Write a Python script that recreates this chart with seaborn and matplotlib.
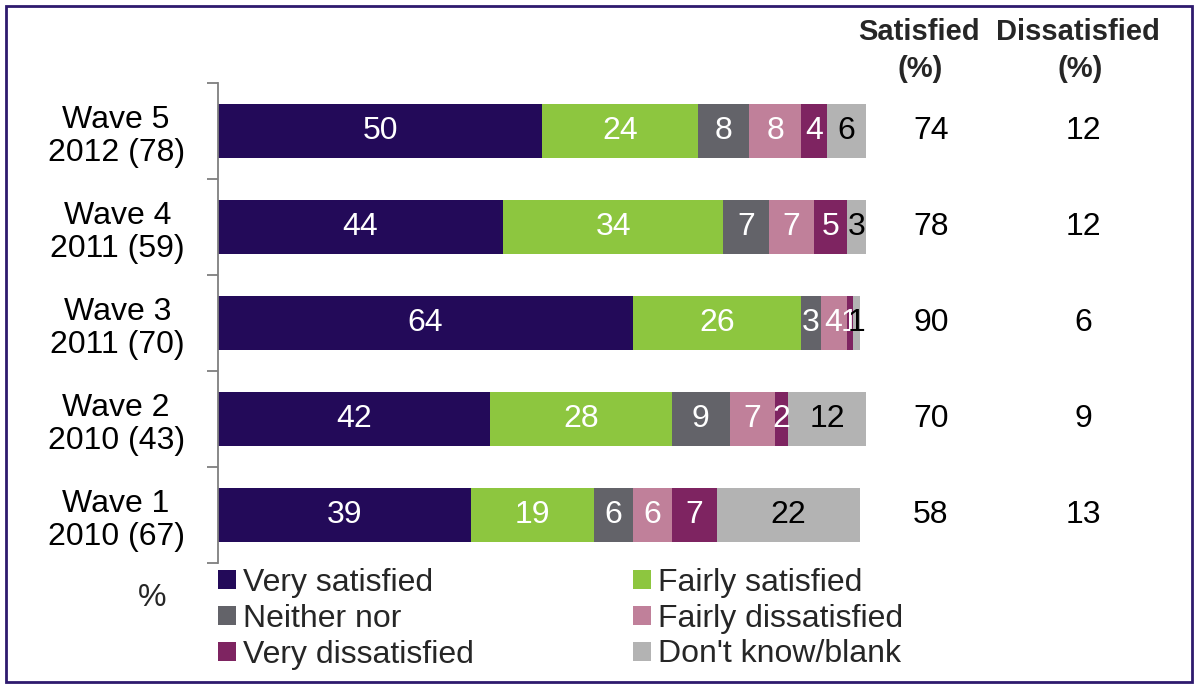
import numpy as np
import pandas as pd
import matplotlib
matplotlib.use("Agg")
import matplotlib.pyplot as plt
from matplotlib.patches import Patch, Rectangle
import seaborn as sns

# Survey waves (top to bottom) and response categories
waves = ["Wave 5\n2012 (78)", "Wave 4\n2011 (59)", "Wave 3\n2011 (70)",
         "Wave 2\n2010 (43)", "Wave 1\n2010 (67)"]
categories = ["Very satisfied", "Fairly satisfied", "Neither nor",
              "Fairly dissatisfied", "Very dissatisfied", "Don't know/blank"]

very_satisfied = [50, 44, 64, 42, 39]
fairly_satisfied = [24, 34, 26, 28, 19]
neither_nor = [8, 7, 3, 9, 6]
fairly_dissatisfied = [8, 7, 4, 7, 6]
very_dissatisfied = [4, 5, 1, 2, 7]
dont_know = [6, 3, 1, 12, 22]

net_satisfied = [74, 78, 90, 70, 58]
net_dissatisfied = [12, 12, 6, 9, 13]

colors = ["#230a59", "#8dc63f", "#636369", "#c0809a", "#7e2461", "#b3b3b3"]
text_colors = ["white", "white", "white", "white", "white", "black"]

sns.set_theme(style="white")
plt.rcParams["font.family"] = ["Liberation Sans", "DejaVu Sans"]

FS = 23
HFS = 21

series = [very_satisfied, fairly_satisfied, neither_nor,
          fairly_dissatisfied, very_dissatisfied, dont_know]
values = np.array(series, dtype=float)          # shape (6, 5)
cum = np.cumsum(values, axis=0)

fig = plt.figure(figsize=(11.98, 6.87), dpi=100)
ax = fig.add_axes([218 / 1198, 124 / 687, 648 / 1198, 480 / 687])

# Stacked bars: draw cumulative totals from the outermost segment inwards
for i in range(len(categories) - 1, -1, -1):
    df = pd.DataFrame({"wave": waves, "total": cum[i]})
    sns.barplot(data=df, x="total", y="wave", orient="h", color=colors[i],
                saturation=1, width=0.57, linewidth=0, ax=ax)

# Segment value labels
for i in range(len(categories)):
    starts = cum[i] - values[i]
    for j in range(len(waves)):
        ax.text(starts[j] + values[i][j] / 2, j, f"{int(values[i][j])}",
                ha="center", va="center", fontsize=FS, color=text_colors[i])

# Net satisfied / dissatisfied columns
for j in range(len(waves)):
    ax.text(110, j, f"{net_satisfied[j]}", ha="center", va="center",
            fontsize=FS, color="black", clip_on=False)
    ax.text(133.5, j, f"{net_dissatisfied[j]}", ha="center", va="center",
            fontsize=FS, color="black", clip_on=False)

fig.text(919 / 1198, 1 - 32 / 687, "Satisfied", ha="center", va="center",
         fontsize=HFS, fontweight="bold")
fig.text(920 / 1198, 1 - 69 / 687, "(%)", ha="center", va="center",
         fontsize=HFS, fontweight="bold")
fig.text(1078 / 1198, 1 - 32 / 687, "Dissatisfied", ha="center", va="center",
         fontsize=HFS, fontweight="bold")
fig.text(1080 / 1198, 1 - 69 / 687, "(%)", ha="center", va="center",
         fontsize=HFS, fontweight="bold")

ax.set_xlim(0, 100)
ax.set_ylim(4.5, -0.5)
ax.set_xlabel("")
ax.set_ylabel("")
ax.set_xticks([])
for side in ["top", "right", "bottom"]:
    ax.spines[side].set_visible(False)
ax.spines["left"].set_color("#7f7f7f")
ax.spines["left"].set_linewidth(1.3)
ax.set_yticks(np.arange(-0.5, 5, 1), minor=True)
ax.tick_params(axis="y", which="major", length=0, pad=24, labelsize=FS,
               labelcolor="black")
ax.tick_params(axis="y", which="minor", length=8, width=1.3, color="#7f7f7f",
               direction="out", left=True)
for lab in ax.get_yticklabels():
    lab.set_multialignment("center")
    lab.set_linespacing(1.15)

fig.text(152 / 1198, 1 - 598 / 687, "%", ha="center", va="center", fontsize=FS)

# Legend: two columns, filled column-wise
order = [0, 2, 4, 1, 3, 5]
handles = [Patch(facecolor=colors[k], edgecolor="none") for k in order]
labels = [categories[k] for k in order]
fig.legend(handles, labels, ncol=2, loc="upper left",
           bbox_to_anchor=(218 / 1198, 1 - 568 / 687), frameon=False,
           fontsize=FS, handlelength=0.55, handleheight=0.55, handletextpad=0.22,
           labelspacing=0.18, columnspacing=5.0, borderpad=0, borderaxespad=0)

# Outer frame
fig.add_artist(Rectangle((6 / 1198, 5 / 687), 1186 / 1198, 676 / 687,
                         transform=fig.transFigure, fill=False,
                         edgecolor="#2e1a6e", linewidth=2))

fig.savefig("out.png", dpi=100)
